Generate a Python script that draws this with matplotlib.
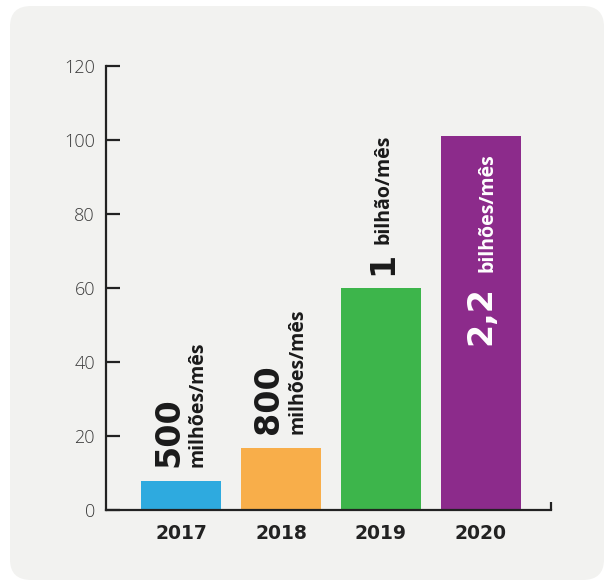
import matplotlib.pyplot as plt
from matplotlib.patches import FancyBboxPatch

years = ['2017', '2018', '2019', '2020']
values = [7.8, 16.8, 60, 101]
colors = ['#2eaadf', '#f8ae4a', '#3db54b', '#8c2b8b']
big_labels = ['500', '800', '1', '2,2']
small_labels = ['milhões/mês', 'milhões/mês', 'bilhão/mês', 'bilhões/mês']
yticks = [0, 20, 40, 60, 80, 100, 120]

plt.rcParams['font.family'] = ['Open Sans', 'DejaVu Sans']
BIG = ['DejaVu Sans']

fig = plt.figure(figsize=(6.05, 5.86), dpi=100)
fig.patch.set_facecolor('white')

# rounded grey card behind the chart
card = FancyBboxPatch((10 / 605, 6 / 586), 594 / 605, 574 / 586,
                      boxstyle='round,pad=0,rounding_size=0.035',
                      transform=fig.transFigure, facecolor='#f2f2f0',
                      edgecolor='none', zorder=-5)
fig.patches.append(card)

ax = fig.add_axes([106 / 605, 76 / 586, 445 / 605, 444 / 586])
ax.set_zorder(2)
ax.set_facecolor('none')

x = list(range(len(years)))
ax.bar(x, values, width=0.8, color=colors, zorder=2)

ax.set_xlim(-0.75, 3.7)
ax.set_ylim(0, 120)
ax.set_yticks(yticks)
ax.set_xticks(x)
ax.set_xticklabels(years, fontsize=13.5, fontweight='bold', color='#222222',
                   family=BIG)
ax.tick_params(axis='x', length=0, pad=10)
ax.tick_params(axis='y', direction='in', length=10, width=1.6,
               color='#222222', labelsize=13, labelcolor='#3a3a3a', pad=8)
for t in ax.get_yticklabels():
    t.set_fontweight('light')

for s in ['top', 'right']:
    ax.spines[s].set_visible(False)
for s in ['left', 'bottom']:
    ax.spines[s].set_linewidth(1.6)
    ax.spines[s].set_color('#222222')
# small upright tick closing the x axis
ax.plot([3.7, 3.7], [0, 2.2], color='#222222', lw=1.6, clip_on=False,
        solid_capstyle='butt')

# 2017 and 2018: number and unit on two rotated lines above the bar
for i in [0, 1]:
    base = values[i] + 3.8
    ax.text(i - 0.12, base, big_labels[i], rotation=90, fontsize=24,
            fontweight='bold', color='#1a1a1a', ha='center', va='bottom',
            family=BIG)
    ax.text(i + 0.17, base, small_labels[i], rotation=90, fontsize=14,
            fontweight='bold', color='#1a1a1a', ha='center', va='bottom')

# 2019: one rotated line above the bar
ax.text(2.02, values[2] + 3.5, big_labels[2], rotation=90, fontsize=24,
        fontweight='bold', color='#1a1a1a', ha='center', va='bottom',
        family=BIG)
ax.text(2.02, values[2] + 12, small_labels[2], rotation=90, fontsize=14,
        fontweight='bold', color='#1a1a1a', ha='center', va='bottom')

# 2020: white text inside the bar
ax.text(3.0, 44.6, big_labels[3], rotation=90, fontsize=24,
        fontweight='bold', color='white', ha='center', va='bottom',
        family=BIG)
ax.text(3.06, 64.3, small_labels[3], rotation=90, fontsize=14,
        fontweight='bold', color='white', ha='center', va='bottom')

fig.savefig('out.png', dpi=100)
